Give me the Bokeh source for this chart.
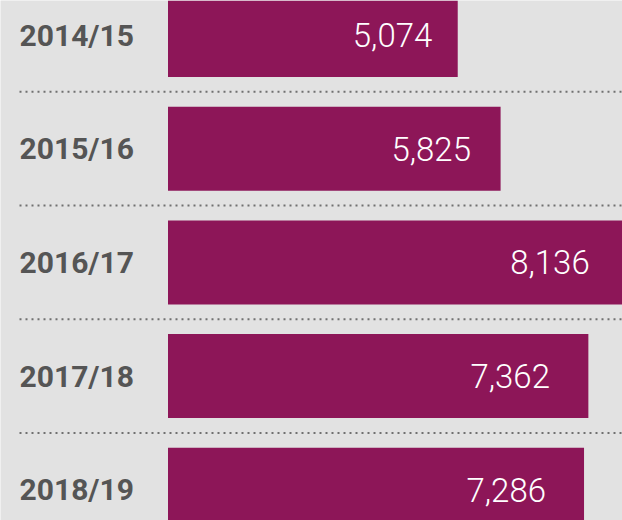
from bokeh.plotting import figure
from bokeh.models import Range1d, ColumnDataSource
from bokeh.core.properties import value
from bokeh.embed import file_html
from bokeh.resources import INLINE

years = ["2014/15", "2015/16", "2016/17", "2017/18", "2018/19"]
counts = [5074, 5825, 8136, 7362, 7286]
count_labels = ["5,074", "5,825", "8,136", "7,362", "7,286"]

BG = "#e2e2e2"
BAR = "#8d1658"

W, H = 622, 520
ypos = [-i for i in range(len(years))]
src = ColumnDataSource(dict(
    y=ypos, v=counts, yr=years, lab=count_labels,
    tx=[0.9 * c + 63 for c in counts],
))

px = 0.0571  # pixels per unit
x0 = -167.5 / px
x1 = x0 + W / px
pitch = 113.7
y_top = 34.5 / pitch
y_bot = y_top - H / pitch

p = figure(width=W, height=H, output_backend="svg", toolbar_location=None,
           x_range=Range1d(x0, x1), y_range=Range1d(y_bot, y_top),
           min_border=0, background_fill_color=BG, border_fill_color=BG,
           outline_line_color=None)
p.axis.visible = False
p.grid.visible = False

# dotted separators
sep_y = [-(i + 0.5) for i in range(len(years) - 1)]
p.segment(x0=[x0 + 19 / px] * len(sep_y), x1=[x1] * len(sep_y), y0=sep_y, y1=sep_y,
          line_color="#707070", line_width=2, line_dash="2 4")

p.hbar(y="y", left=0, right="v", height=84 / pitch, source=src,
       fill_color=BAR, line_color=None)

p.text(x=x0 + 19 / px, y="y", text="yr", source=src,
       text_font=value("Roboto"), text_font_style="bold", text_font_size="30px",
       text_color="#555555", text_align="left", text_baseline="middle")

p.text(x="tx", y="y", text="lab", source=src,
       text_font=value("'Roboto Light', Roboto, sans-serif"), text_font_size="33px",
       text_color="#ffffff", text_align="right", text_baseline="middle")

open("out.html", "w").write(file_html(p, INLINE))
